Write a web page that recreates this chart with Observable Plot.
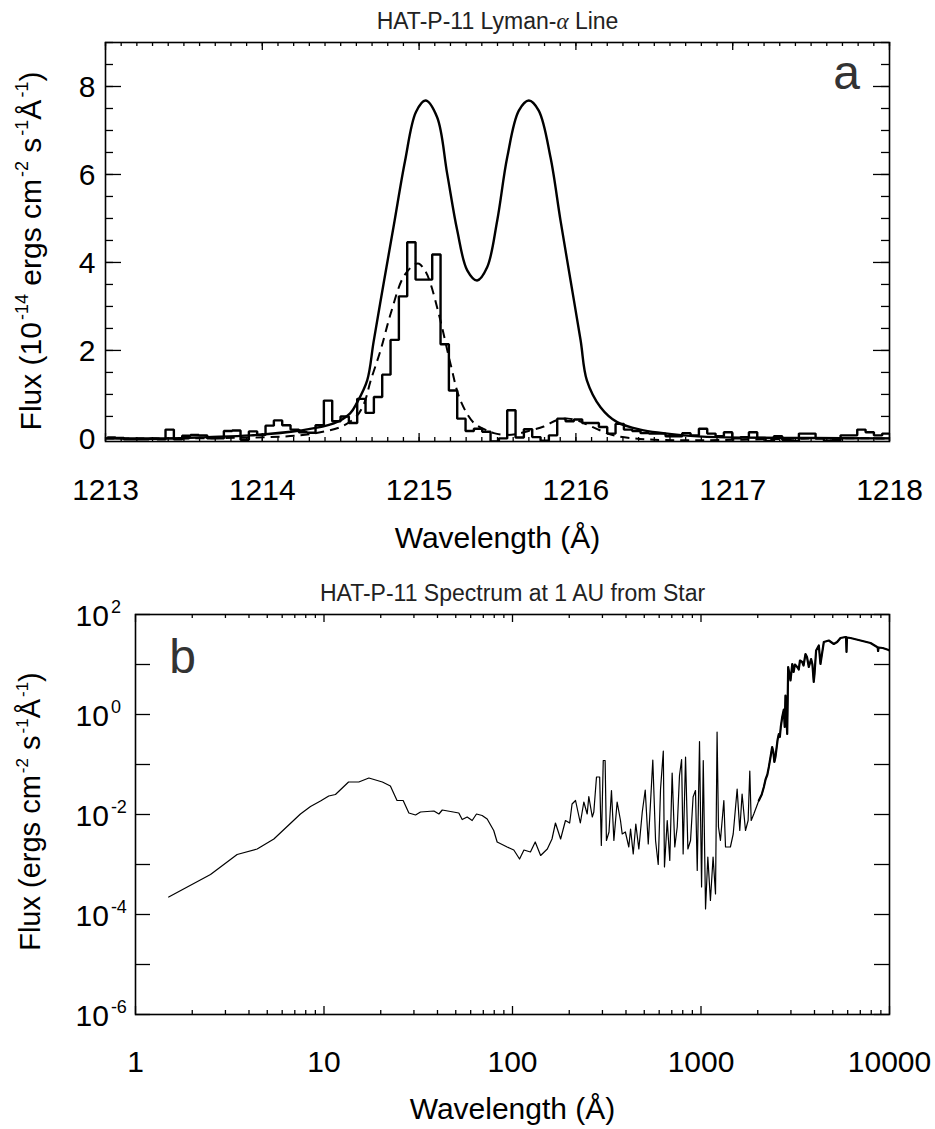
<!DOCTYPE html>
<html><head><meta charset="utf-8">
<script src="https://cdn.jsdelivr.net/npm/d3@7"></script>
<script src="https://cdn.jsdelivr.net/npm/@observablehq/plot@0.6"></script>
<style>
html,body{margin:0;padding:0;background:#fff;}
#chart svg{display:block;}
g[aria-label="title"] text{letter-spacing:1px;}
</style></head><body><div id="chart"></div>
<script>
// ---------- text ----------
const lyaTitle = "HAT-P-11 Lyman-α Line";
const specTitle = "HAT-P-11 Spectrum at 1 AU from Star";
const xTitle = "Wavelength (Å)";
const lyaYTitle = "Flux (10^{-14} ergs cm^{-2} s^{-1}Å^{-1})";
const specYTitle = "Flux (ergs cm^{-2} s^{-1}Å^{-1})";
const lyaPanel = "a";
const specPanel = "b";

// ---------- ticks ----------
const lyaXTicks = [1213, 1214, 1215, 1216, 1217, 1218];
const lyaYTicks = [0, 2, 4, 6, 8];
const specXTicks = [1, 10, 100, 1000, 10000];
const specXTickLabels = ["1", "10", "100", "1000", "10000"];
const specYTicks = [1e2, 1e0, 1e-2, 1e-4, 1e-6];
const specYTickLabels = ["10^{2}", "10^{0}", "10^{-2}", "10^{-4}", "10^{-6}"];

// ---------- panel a: intrinsic (solid) ----------
const intrWave = [1213.0, 1213.39, 1213.65, 1213.925, 1214.24, 1214.456, 1214.56, 1214.605, 1214.669, 1214.71, 1214.775, 1214.839, 1214.91, 1214.98, 1215.041, 1215.115, 1215.179, 1215.243, 1215.307, 1215.37, 1215.434, 1215.498, 1215.562, 1215.636, 1215.70, 1215.763, 1215.838, 1215.902, 1215.966, 1216.03, 1216.07, 1216.157, 1216.263, 1216.41, 1216.688, 1216.9, 1217.5, 1218.0];
const intrFlux = [0.0, 0.0, 0.03, 0.07, 0.18, 0.34, 0.57, 0.82, 1.32, 2.2, 3.55, 4.85, 6.3, 7.42, 7.68, 7.30, 6.02, 4.73, 3.82, 3.59, 3.89, 4.95, 6.39, 7.45, 7.68, 7.45, 6.39, 4.95, 3.59, 2.23, 1.32, 0.71, 0.37, 0.20, 0.07, 0.03, 0.01, 0.0];

// ---------- panel a: model (dashed) ----------
const modelWave = [1213.0, 1213.5, 1214.03, 1214.24, 1214.37, 1214.5, 1214.6, 1214.65, 1214.69, 1214.754, 1214.82, 1214.9, 1214.97, 1215.0, 1215.04, 1215.07, 1215.136, 1215.2, 1215.264, 1215.35, 1215.434, 1215.477, 1215.55, 1215.62, 1215.71, 1215.795, 1215.88, 1215.95, 1216.008, 1216.08, 1216.157, 1216.24, 1216.37, 1216.5, 1216.8, 1217.2, 1217.6, 1218.0];
const modelFlux = [0.0, 0.0, 0.03, 0.07, 0.14, 0.26, 0.5, 0.8, 1.3, 2.0, 2.85, 3.67, 3.95, 3.97, 3.8, 3.55, 2.68, 1.70, 0.86, 0.35, 0.18, 0.12, 0.08, 0.10, 0.18, 0.27, 0.42, 0.45, 0.41, 0.30, 0.18, 0.07, 0.0, -0.03, -0.04, -0.02, 0.0, 0.0];

// ---------- panel a: observed histogram ----------
const obsBinStart = 1213.0108;
const obsBinWidth = 0.05315;
const obsFlux = [
  0.02, 0.01, -0.02, -0.02, -0.02, -0.01, -0.02, 0.20, -0.02, 0.06,
  0.08, 0.07, 0.00, 0.00, 0.17, 0.18, -0.03, 0.16, 0.08, 0.29,
  0.41, 0.30, 0.20, 0.14, 0.13, 0.30, 0.86, 0.39, 0.50, 0.35,
  0.90, 0.58, 0.94, 1.45, 2.24, 3.23, 4.46, 3.61, 3.61, 4.18,
  2.14, 1.09, 0.45, 0.17, 0.22, 0.15, -0.07, 0.00, 0.64, 0.02,
  0.21, 0.03, -0.05, 0.07, 0.45, 0.39, 0.43, 0.35, 0.35, 0.26,
  0.11, 0.33, 0.20, 0.17, 0.12, 0.11, 0.11, 0.05, 0.05, 0.12,
  0.07, 0.22, 0.11, 0.05, 0.14, 0.00, 0.03, 0.14, 0.01, -0.06,
  0.05, -0.03, -0.06, 0.11, 0.11, 0.00, -0.05, -0.04, 0.07, 0.07,
  0.20, 0.14, 0.07, 0.11];

// ---------- panel b: spectrum ----------
const specWave = [1.5, 2.5, 3.46, 4.42, 5.42, 7.5, 8.48, 9.58, 10.6, 11.5,
  13.5, 15.3, 17.3, 20.4, 22.5, 24.4, 26.3, 28.2, 30.6, 32.5,
  38.3, 40.7, 42.4, 46.9, 51.9, 54.1, 57.5, 61.1, 64.4, 69,
  73.4, 79.5, 82.9, 93.7, 101.6, 109, 115, 124.5, 132, 141,
  153, 162, 169, 180, 191, 201, 207, 216, 229, 239,
  249, 254, 265, 270, 279, 290, 296, 303, 310, 315,
  325, 335, 345, 359, 374, 382, 397, 414, 423, 437,
  451, 468, 488, 506, 525, 540, 555, 574, 593, 610,
  631, 640, 662, 683, 703, 726, 748, 769, 789, 804,
  828, 852, 880, 908, 935, 955, 982, 1007, 1028, 1057,
  1087, 1122, 1159, 1194, 1217, 1238, 1268, 1322, 1349, 1432,
  1482, 1555, 1606, 1652, 1722, 1778, 1815, 1846, 1906, 2027,
  2100, 2155, 2200, 2250, 2290, 2350, 2385, 2420, 2450, 2483,
  2550, 2588, 2620, 2650, 2697, 2750, 2780, 2806, 2866, 2900,
  2985, 3048, 3100, 3150, 3237, 3300, 3350, 3443, 3500, 3584,
  3650, 3732, 3838, 3900, 3963, 4000, 4080, 4217, 4303, 4483,
  4764, 5063, 5277, 5495, 5844, 5880, 5915, 5950, 6211, 7020,
  7930, 8595, 8650, 8700, 8750, 9204, 9900, 10000];
const specLogFlux = [-3.65, -3.2, -2.8, -2.69, -2.49, -1.99, -1.84, -1.73, -1.63, -1.60,
  -1.35, -1.35, -1.27, -1.35, -1.43, -1.72, -1.72, -1.97, -2.01, -1.95,
  -1.93, -1.99, -1.91, -1.94, -1.97, -2.10, -2.05, -2.12, -1.99, -2.02,
  -2.09, -2.32, -2.55, -2.65, -2.71, -2.89, -2.71, -2.75, -2.55, -2.82,
  -2.69, -2.49, -2.17, -2.49, -2.12, -2.17, -1.79, -1.72, -2.17, -1.75,
  -1.99, -1.64, -2.05, -1.95, -1.25, -1.25, -2.62, -0.92, -0.92, -2.52,
  -2.35, -1.52, -2.52, -1.75, -2.12, -2.39, -2.35, -2.65, -2.29, -2.79,
  -2.19, -2.69, -1.95, -1.51, -2.59, -1.75, -0.91, -2.52, -3.0, -1.49,
  -0.73, -3.05, -2.12, -2.92, -1.17, -2.65, -2.25, -1.22, -0.9, -2.79,
  -0.85, -2.69, -2.52, -1.65, -1.52, -3.12, -0.54, -3.45, -0.92, -3.89,
  -2.85, -3.72, -2.85, -3.59, -0.35, -2.25, -2.52, -1.72, -2.65, -2.65,
  -2.39, -1.49, -2.32, -1.59, -2.32, -2.12, -1.13, -2.12, -1.99, -1.72,
  -1.6, -1.45, -1.3, -1.2, -1.05, -0.8, -0.65, -0.75, -0.95, -0.85,
  -0.5, -0.39, -0.45, -0.25, -0.05, 0.1, -0.25, 0.38, -0.39, 0.95,
  0.68, 1.01, 0.85, 1.0, 0.95, 0.9, 1.08, 1.05, 0.98, 1.21,
  1.15, 0.95, 1.11, 1.0, 0.65, 0.8, 1.28, 1.38, 1.01, 1.45,
  1.48, 1.41, 1.45, 1.53, 1.55, 1.55, 1.25, 1.54, 1.53, 1.48,
  1.43, 1.35, 1.35, 1.27, 1.34, 1.33, 1.29, 1.28];

// ---------- tables ----------
const intr = intrWave.map((w, i) => ({w, f: intrFlux[i]}));
const model = modelWave.map((w, i) => ({w, f: modelFlux[i]}));
const obs = obsFlux.map((f, k) => ({w: obsBinStart + k * obsBinWidth, f}));
obs.push({w: obsBinStart + obsFlux.length * obsBinWidth, f: obsFlux[obsFlux.length - 1]});
const spec = specWave.map((w, i) => ({w, f: Math.pow(10, specLogFlux[i])}));

const FONT = "'Liberation Sans', Arial, Helvetica, sans-serif";
const TICKW = 1.3;

// ---------- panel a ----------
const mA = {top: 42, right: 46, bottom: 134, left: 105};
const WA = 935, HA = 575;
const iwA = WA - mA.left - mA.right, ihA = HA - mA.top - mA.bottom;
const xMinorA = d3.range(0, 51).map(i => 1213 + i / 10);
const yMinorA = d3.range(0, 19).map(i => i / 2);

const plotA = Plot.plot({
  width: WA, height: HA,
  marginTop: mA.top, marginRight: mA.right, marginBottom: mA.bottom, marginLeft: mA.left,
  x: {domain: [1213, 1218], axis: null},
  y: {domain: [-0.07, 9], axis: null},
  style: {fontFamily: FONT, background: "white", color: "black", overflow: "visible"},
  marks: [
    Plot.line(obs, {x: "w", y: "f", curve: "step-after", stroke: "black", strokeWidth: 2.4, strokeLinejoin: "miter", strokeLinecap: "butt", clip: true}),
    Plot.line(model, {x: "w", y: "f", curve: "catmull-rom", stroke: "black", strokeWidth: 2, strokeDasharray: "9,6", strokeLinecap: "butt", clip: true}),
    Plot.line(intr, {x: "w", y: "f", curve: "catmull-rom", stroke: "black", strokeWidth: 2.4, clip: true}),
    Plot.tickX(xMinorA, {x: d => d, insetTop: ihA - 4, stroke: "black", strokeWidth: TICKW}),
    Plot.tickX(xMinorA, {x: d => d, insetBottom: ihA - 4, stroke: "black", strokeWidth: TICKW}),
    Plot.tickX(lyaXTicks, {x: d => d, insetTop: ihA - 8, stroke: "black", strokeWidth: TICKW}),
    Plot.tickX(lyaXTicks, {x: d => d, insetBottom: ihA - 8, stroke: "black", strokeWidth: TICKW}),
    Plot.tickY(yMinorA, {y: d => d, insetRight: iwA - 8, stroke: "black", strokeWidth: TICKW}),
    Plot.tickY(yMinorA, {y: d => d, insetLeft: iwA - 8, stroke: "black", strokeWidth: TICKW}),
    Plot.tickY(lyaYTicks, {y: d => d, insetRight: iwA - 16, stroke: "black", strokeWidth: TICKW}),
    Plot.tickY(lyaYTicks, {y: d => d, insetLeft: iwA - 16, stroke: "black", strokeWidth: TICKW}),
    Plot.frame({stroke: "black", strokeWidth: 1.6}),
    Plot.text(lyaXTicks, {x: d => d, text: d => String(d), frameAnchor: "bottom", lineAnchor: "bottom", dy: 58, fontSize: 30, fill: "black"}),
    Plot.text(lyaYTicks, {y: d => d, text: d => String(d), frameAnchor: "left", textAnchor: "end", lineAnchor: "bottom", dx: -10, dy: 11, fontSize: 30, fill: "black"}),
    Plot.text([xTitle], {text: d => d, frameAnchor: "bottom", lineAnchor: "bottom", dy: 106, fontSize: 30, fill: "black"}),
    Plot.text([lyaTitle], {text: d => d, frameAnchor: "top", lineAnchor: "bottom", dy: -14, fontSize: 23, fill: "#222", ariaLabel: "title"}),
    Plot.text([lyaYTitle], {text: d => d, frameAnchor: "left", textAnchor: "middle", lineAnchor: "bottom", rotate: -90, dx: -65, dy: 9, fontSize: 30, fill: "black"}),
    Plot.text([lyaPanel], {text: d => d, frameAnchor: "top-right", lineAnchor: "bottom", textAnchor: "middle", dx: -43, dy: 46, fontSize: 48, fill: "#333"})
  ]
});

// ---------- panel b ----------
const mB = {top: 39, right: 46, bottom: 115, left: 135};
const WB = 935, HB = 554;
const iwB = WB - mB.left - mB.right, ihB = HB - mB.top - mB.bottom;
const xMinorB = [];
for (const d of [1, 10, 100, 1000]) for (let m = 2; m <= 9; m++) xMinorB.push(m * d);
const yDecadesB = d3.range(-6, 3).map(e => Math.pow(10, e));

const plotB = Plot.plot({
  width: WB, height: HB,
  marginTop: mB.top, marginRight: mB.right, marginBottom: mB.bottom, marginLeft: mB.left,
  x: {type: "log", domain: [1, 10000], axis: null},
  y: {type: "log", domain: [1e-6, 1e2], axis: null},
  style: {fontFamily: FONT, background: "white", color: "black", overflow: "visible"},
  marks: [
    Plot.line(spec, {x: "w", y: "f", stroke: "black", strokeWidth: 1.2, clip: true}),
    Plot.line(spec, {filter: d => d.w >= 2000, x: "w", y: "f", stroke: "black", strokeWidth: 2.2, clip: true}),
    Plot.tickX(xMinorB, {x: d => d, insetTop: ihB - 4, stroke: "black", strokeWidth: TICKW}),
    Plot.tickX(xMinorB, {x: d => d, insetBottom: ihB - 4, stroke: "black", strokeWidth: TICKW}),
    Plot.tickX(specXTicks, {x: d => d, insetTop: ihB - 8, stroke: "black", strokeWidth: TICKW}),
    Plot.tickX(specXTicks, {x: d => d, insetBottom: ihB - 8, stroke: "black", strokeWidth: TICKW}),
    Plot.tickY(yDecadesB, {y: d => d, insetRight: iwB - 15, stroke: "black", strokeWidth: TICKW}),
    Plot.tickY(yDecadesB, {y: d => d, insetLeft: iwB - 15, stroke: "black", strokeWidth: TICKW}),
    Plot.frame({stroke: "black", strokeWidth: 1.6}),
    Plot.text(specXTicks, {x: d => d, text: (d, i) => specXTickLabels[i], frameAnchor: "bottom", lineAnchor: "bottom", dy: 57, fontSize: 30, fill: "black"}),
    Plot.text(specYTicks, {y: d => d, text: (d, i) => specYTickLabels[i], frameAnchor: "left", textAnchor: "start", lineAnchor: "bottom", dx: -60, dy: 11, fontSize: 30, fill: "black"}),
    Plot.text([xTitle], {text: d => d, frameAnchor: "bottom", lineAnchor: "bottom", dy: 104, fontSize: 30, fill: "black"}),
    Plot.text([specTitle], {text: d => d, frameAnchor: "top", lineAnchor: "bottom", dy: -14, fontSize: 23, fill: "#222", ariaLabel: "title"}),
    Plot.text([specYTitle], {text: d => d, frameAnchor: "left", textAnchor: "middle", lineAnchor: "bottom", rotate: -90, dx: -96, dy: -3, fontSize: 29, fill: "black"}),
    Plot.text([specPanel], {text: d => d, frameAnchor: "top-left", lineAnchor: "bottom", textAnchor: "middle", dx: 47, dy: 58, fontSize: 48, fill: "#333"})
  ]
});

const host = document.getElementById("chart");
host.appendChild(plotA);
host.appendChild(plotB);

// superscripts and italic alpha as real tspans
function richText(svg) {
  svg.querySelectorAll("text").forEach(node => {
    const t = node.textContent;
    if (!/\^\{|α/.test(t)) return;
    const fs = parseFloat(getComputedStyle(node).fontSize) || 16;
    const sup = Math.round(fs * 0.6), rise = Math.round(fs * 0.42);
    while (node.firstChild) node.removeChild(node.firstChild);
    const parts = t.split(/(\^\{[^}]*\}|α)/);
    let up = false;
    for (const p of parts) {
      if (!p) continue;
      const ts = document.createElementNS("http://www.w3.org/2000/svg", "tspan");
      if (p.startsWith("^{")) {
        ts.textContent = p.slice(2, -1);
        ts.setAttribute("font-size", sup);
        if (!up) { ts.setAttribute("dy", -rise); ts.setAttribute("dx", 2); }
        up = true;
      } else {
        ts.textContent = p;
        if (up) ts.setAttribute("dy", rise);
        up = false;
        if (p === "α") {
          ts.setAttribute("font-style", "italic");
          ts.setAttribute("font-family", "'Liberation Serif', 'DejaVu Serif', serif");
        }
      }
      node.appendChild(ts);
    }
  });
}
richText(plotA);
richText(plotB);
</script></body></html>
